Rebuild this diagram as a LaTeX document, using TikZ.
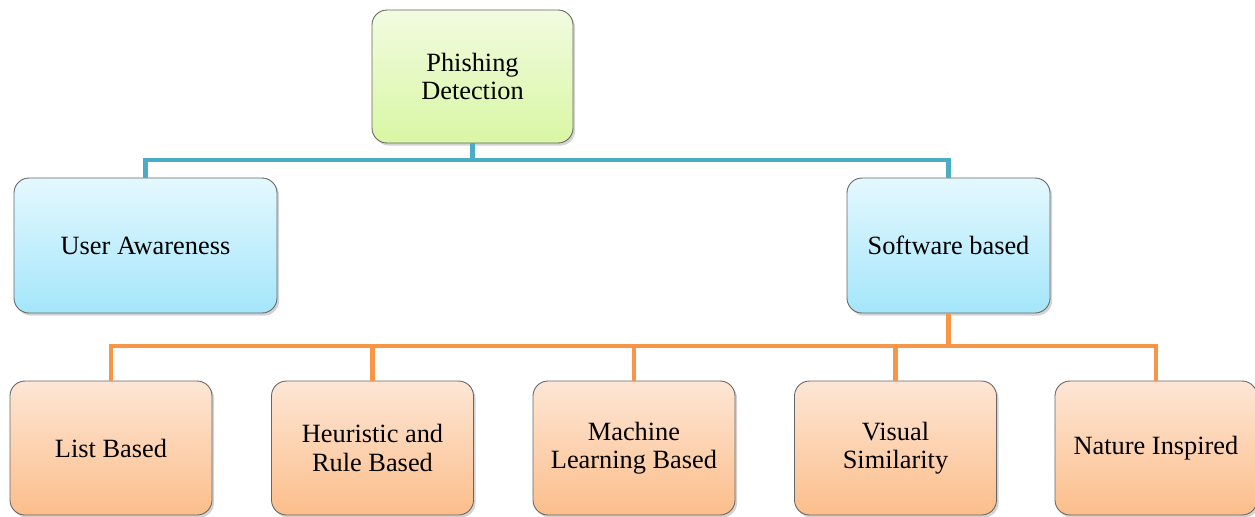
\documentclass[tikz,border=0pt]{standalone}
\usepackage{fontspec}
\setmainfont{Liberation Serif}
\usetikzlibrary{shadows}

\definecolor{busteal}{HTML}{4BACC6}
\definecolor{busorange}{HTML}{F79646}
\definecolor{greentop}{HTML}{F2FBE0}
\definecolor{greenbot}{HTML}{D8F7A4}
\definecolor{bluetop}{HTML}{E4F8FE}
\definecolor{bluebot}{HTML}{A4E6FB}
\definecolor{orangetop}{HTML}{FDE6D6}
\definecolor{orangebot}{HTML}{FCBE8A}

\begin{document}
\begin{tikzpicture}[
    box/.style={draw=gray!80!black, line width=0.5pt, rounded corners=0.3cm,
        align=center, inner sep=2pt, font=\fontsize{15}{16}\selectfont,
        drop shadow={shadow xshift=1.2pt, shadow yshift=-1.5pt, opacity=0.35}},
    greenbox/.style={box, top color=greentop, bottom color=greenbot,
        minimum width=4.02cm, minimum height=2.66cm},
    bluebox/.style={box, top color=bluetop, bottom color=bluebot,
        minimum height=2.70cm},
    orangebox/.style={box, top color=orangetop, bottom color=orangebot,
        minimum width=4.04cm, minimum height=2.68cm},
    tealbus/.style={busteal, line width=2.8pt},
    orangebus/.style={busorange, line width=2.8pt}
]
    \useasboundingbox (0,0) rectangle (25.1,-10.32);

    % top of the tree
    \node[greenbox] (pd) at (9.45,-1.53) {Phishing\\Detection};

    % second level
    \node[bluebox, minimum width=5.26cm] (ua) at (2.91,-4.91) {User Awareness};
    \node[bluebox, minimum width=4.06cm] (sw) at (18.97,-4.91) {Software based};

    % third level, all under "Software based"
    \node[orangebox] (lb) at (2.22,-8.96) {List Based};
    \node[orangebox] (hr) at (7.45,-8.96) {Heuristic and\\Rule Based};
    \node[orangebox] (ml) at (12.68,-8.96) {Machine\\Learning Based};
    \node[orangebox] (vs) at (17.91,-8.96) {Visual\\Similarity};
    \node[orangebox] (ni) at (23.12,-8.96) {Nature Inspired};

    % connectors
    \coordinate (tbus) at (9.45,-3.2);
    \draw[tealbus] (pd.south) -- (tbus) -| (ua.north);
    \draw[tealbus] (tbus) -| (sw.north);

    \coordinate (obus) at (sw.south |- 0,-6.92);
    \draw[orangebus] (sw.south) -- (obus);
    \foreach \leaf in {lb,hr,ml,vs,ni}
        \draw[orangebus] (obus) -| (\leaf.north);
\end{tikzpicture}
\end{document}
